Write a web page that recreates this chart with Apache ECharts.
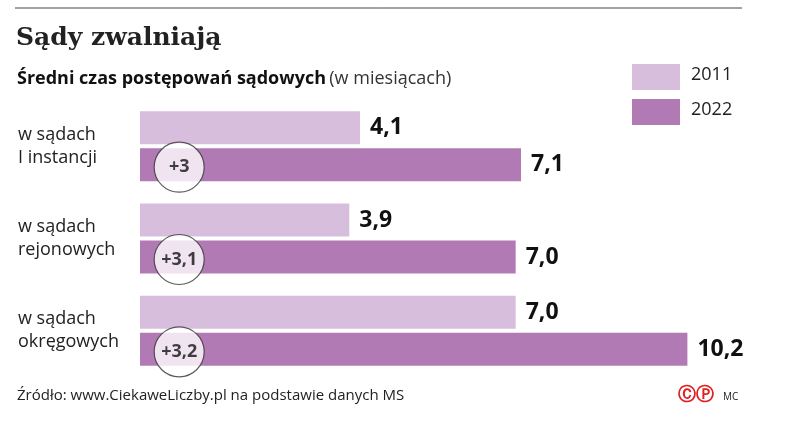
<!DOCTYPE html><html><head><meta charset="utf-8"><script src="https://cdn.jsdelivr.net/npm/echarts@6/dist/echarts.min.js"></script>
<style>body{margin:0;background:#fff}#c{width:788px;height:425px}</style></head><body><div id="c"></div><script>
const categories=['w sądach\nI instancji','w sądach\nrejonowych','w sądach\nokręgowych'];
const years=['2011','2022'];
const v2011=[4.1,3.9,7.0];
const v2022=[7.1,7.0,10.2];
const diffs=['+3','+3,1','+3,2'];
const colors=['#d8bedd','#b27ab5'];
const F='"Open Sans", sans-serif';
const fmt=p=>p.value.toFixed(1).replace('.',',');
const ch=echarts.init(document.getElementById('c'));
ch.setOption({animation:false,
grid:{left:140,right:4,top:100,bottom:48},
xAxis:{type:'value',min:0,max:12,show:false},
yAxis:{type:'category',data:categories,inverse:true,axisLine:{show:false},axisTick:{show:false},
 axisLabel:{align:'left',margin:122,fontFamily:F,fontSize:18,color:'#222',lineHeight:23}},
series:[
 {name:years[0],type:'bar',data:v2011,barWidth:33,barGap:'12%',itemStyle:{color:colors[0]},
  label:{show:true,position:'right',distance:10,formatter:fmt,fontFamily:F,fontWeight:'bold',fontSize:23,color:'#111'}},
 {name:years[1],type:'bar',data:v2022,barWidth:33,itemStyle:{color:colors[1]},
  label:{show:true,position:'right',distance:10,formatter:fmt,fontFamily:F,fontWeight:'bold',fontSize:23,color:'#111'}},
 {type:'scatter',data:[0.73,0.73,0.73],symbolSize:50,symbolOffset:[0,21],z:5,
  itemStyle:{color:'#fff',borderColor:'#333',borderWidth:1.2},
  label:{show:true,position:'inside',offset:[0,0],formatter:p=>diffs[p.dataIndex],fontFamily:F,fontWeight:'bold',fontSize:18,color:'#111'}}
],
graphic:[
 {type:'line',shape:{x1:15,y1:8,x2:742,y2:8},style:{stroke:'#444',lineWidth:1}},
 {type:'text',left:16,top:26,style:{text:'Sądy zwalniają',font:'bold 25px "DejaVu Serif", serif',fill:'#222'}},
 {type:'text',left:17,top:70,style:{rich:{a:{font:'bold 18px "Open Sans"',fill:'#111'},b:{font:'18px "Open Sans"',fill:'#333'}},text:'{a|Średni czas postępowań sądowych} {b|(w miesiącach)}'}},
 {type:'rect',shape:{x:632,y:64,width:48,height:26},style:{fill:colors[0]}},
 {type:'rect',shape:{x:632,y:99,width:48,height:26},style:{fill:colors[1]}},
 {type:'text',left:691,top:66,style:{text:years[0],font:'18px "Open Sans"',fill:'#222'}},
 {type:'text',left:691,top:101,style:{text:years[1],font:'18px "Open Sans"',fill:'#222'}},
 {type:'text',left:17,top:388,style:{text:'Źródło: www.CiekaweLiczby.pl na podstawie danych MS',font:'15px "Open Sans"',fill:'#222'}},
 {type:'text',left:678,top:386,style:{text:'ⒸⓅ',font:'bold 18px "DejaVu Sans"',fill:'#e02020'}},
 {type:'text',left:723,top:392,style:{text:'MC',font:'10px "Open Sans"',fill:'#222'}}
]});
</script></body></html>
